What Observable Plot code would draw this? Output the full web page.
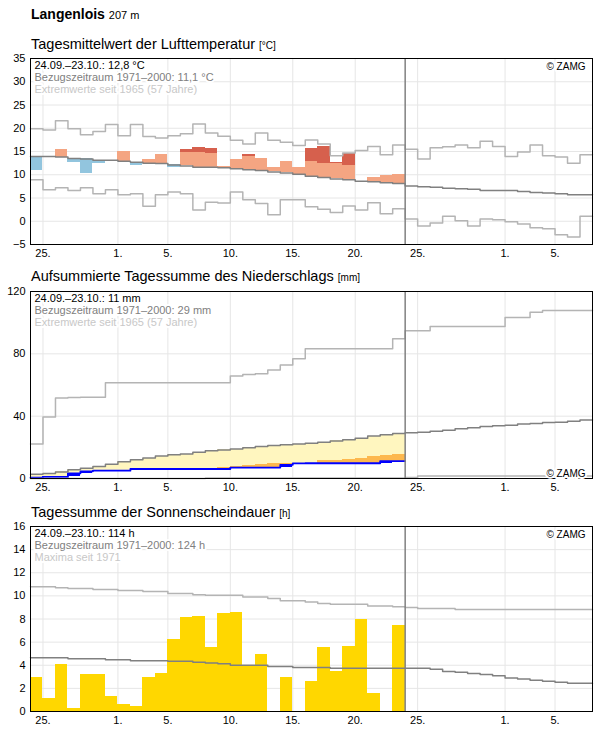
<!DOCTYPE html>
<html>
<head>
<meta charset="utf-8">
<script src="https://cdn.jsdelivr.net/npm/d3@7"></script>
<script src="https://cdn.jsdelivr.net/npm/@observablehq/plot@0.6"></script>
<style>
  body { margin: 0; background: #fff; font-family: "Liberation Sans", Arial, sans-serif; }
  #page { position: relative; width: 596px; height: 729px; overflow: hidden; background: #fff; }
  .h { position: absolute; left: 31px; white-space: nowrap; color: #000; line-height: 17px; }
  .station { font-size: 14px; font-weight: bold; }
  .station span { font-size: 11px; font-weight: normal; }
  .title { font-size: 14.5px; }
  .title span { font-size: 10px; }
  .panel { position: absolute; left: 0; }
</style>
</head>
<body>
<div id="page">
  <div class="h station" style="top:6px">Langenlois <span>207 m</span></div>
  <div class="h title" style="top:36px">Tagesmittelwert der Lufttemperatur <span>[°C]</span></div>
  <div class="panel" id="temp" style="top:50px"></div>
  <div class="h title" style="top:268px">Aufsummierte Tagessumme des Niederschlags <span>[mm]</span></div>
  <div class="panel" id="precip" style="top:283px"></div>
  <div class="h title" style="top:504px">Tagessumme der Sonnenscheindauer <span>[h]</span></div>
  <div class="panel" id="sun" style="top:518px"></div>
</div>
<script>
// Period shown: 24.09.2021 – 07.11.2021, observations up to 23.10.
const startDate = "2021-09-24";
const endDate = "2021-11-08";
const todayDate = "2021-10-24";
const tickDates = ["2021-09-25", "2021-10-01", "2021-10-05", "2021-10-10", "2021-10-15",
                   "2021-10-20", "2021-10-25", "2021-11-01", "2021-11-05"];

// Air temperature, daily mean [°C]
const tempObs = [10.9, 13.9, 15.4, 12.7, 10.2, 12.5, 13.1, 14.9, 11.9, 13.3,
                 14.4, 11.6, 15.4, 15.9, 15.7, 11.7, 13.3, 14.4, 13.6, 11.6,
                 12.9, 11.6, 15.7, 16.1, 12.6, 14.6, 8.6, 9.4, 9.9, 10.1];
const tempWarmLimit = [16.9, 16.9, 16.8, 16.5, 16.4, 16.1, 16.1, 15.9, 15.7, 15.5,
                       15.4, 15.1, 14.7, 14.7, 14.6, 14.5, 14.3, 14.0, 13.9, 13.6,
                       13.4, 13.1, 12.9, 12.5, 12.4, 11.9, 11.6, 11.5, 11.3, 11.1];
const tempMean = [13.9, 13.9, 13.8, 13.5, 13.4, 13.1, 13.1, 12.9, 12.7, 12.5,
                  12.4, 12.1, 11.9, 11.6, 11.6, 11.5, 11.3, 11.1, 10.9, 10.6,
                  10.4, 10.1, 9.7, 9.4, 9.1, 8.9, 8.6, 8.5, 8.3, 8.1,
                  7.6, 7.4, 7.3, 7.1, 7.0, 6.9, 6.6, 6.6, 6.6, 6.4, 6.2, 6.1, 5.9, 5.7, 5.7];
const tempMax = [19.9, 19.6, 21.6, 19.9, 18.6, 19.3, 20.8, 18.4, 20.8, 18.2,
                 17.9, 18.4, 18.8, 20.9, 19.0, 18.3, 17.4, 16.6, 19.0, 17.4,
                 17.0, 16.3, 17.5, 16.6, 14.1, 14.7, 15.2, 16.1, 14.3, 16.4,
                 15.5, 13.4, 15.8, 16.0, 16.4, 15.8, 17.2, 16.1, 13.9, 14.9, 16.4, 14.1, 13.8, 12.5, 14.3];
const tempMin = [8.9, 6.8, 7.2, 6.6, 7.2, 5.9, 6.8, 5.7, 5.9, 3.2,
                 5.7, 6.3, 5.9, 2.4, 4.1, 3.9, 6.3, 4.6, 3.8, 1.4,
                 4.6, 4.6, 3.1, 2.6, 1.9, 3.3, 2.4, 4.0, 1.6, 2.7,
                 0.5, -1.0, -0.4, 1.1, 0.1, -1.0, 0.5, 0.3, -0.1, -0.6, -1.4, -1.6, -2.9, -3.4, 1.1];

// Precipitation: daily sums [mm], climatological cumulative curves
const precipDaily = [0.6, 0.4, 0, 2.3, 1.3, 0.4, 0, 0, 1.1, 0,
                     0, 0, 0, 0, 0, 0, 0.9, 0, 0, 0,
                     1.8, 0.9, 0.1, 0, 0, 0, 0, 0, 1.4, 0];
const precipDryLimit = [0.3, 0.5, 0.7, 1.0, 1.3, 1.6, 2.0, 2.5, 3.0, 3.5,
                        4.0, 4.6, 5.2, 5.7, 6.0, 7.3, 7.7, 8.3, 9.2, 9.4,
                        9.6, 9.6, 9.7, 11.6, 11.6, 12.2, 12.6, 14.3, 14.8, 15.4];
const precipMean = [2.7, 3.2, 4.2, 5.6, 6.6, 7.7, 9.2, 10.8, 12.1, 13.1,
                    14.4, 15.2, 15.7, 16.9, 17.8, 18.3, 18.9, 19.7, 20.5, 21.2,
                    21.7, 22.1, 22.6, 23.3, 24.1, 24.8, 25.8, 27.2, 28.1, 28.8,
                    29.3, 29.7, 30.4, 31.0, 31.9, 32.5, 33.4, 33.8, 34.2, 34.9, 35.3, 35.9, 36.1, 36.8, 37.6];
const precipMax = [22.2, 39.4, 51.6, 52.0, 52.2, 52.2, 61.4, 61.4, 61.4, 61.4,
                   61.4, 61.4, 61.4, 61.4, 61.4, 61.4, 65.7, 66.7, 67.2, 69.7,
                   72.9, 76.8, 83.2, 83.2, 83.2, 83.2, 83.2, 83.2, 83.2, 89.6,
                   94.8, 94.8, 97.5, 97.5, 97.5, 97.5, 97.5, 97.5, 103.3, 103.3, 106.7, 107.8, 107.8, 107.8, 107.8];
const precipMin = [0, 0, 0, 0, 0, 0, 0, 0, 0, 0,
                   0, 0, 0, 0, 0.4, 0.4, 0.4, 0.4, 0.4, 0.4,
                   0.4, 0.4, 0.4, 0.4, 0.4, 0.4, 0.4, 0.4, 0.4, 0.4,
                   0.6, 1.6, 1.6, 1.6, 1.6, 1.6, 1.6, 1.6, 1.6, 1.6, 1.6, 1.6, 1.6, 1.6, 1.6];

// Sunshine duration, daily sums [h]
const sunObs = [2.9, 1.1, 4.1, 0.3, 3.2, 3.2, 1.3, 0.6, 0.4, 2.9,
                3.3, 6.2, 8.1, 8.2, 5.5, 8.5, 8.6, 4.0, 4.9, 0,
                2.9, 0, 2.6, 5.5, 3.5, 5.6, 8.0, 1.6, 0, 7.4];
const sunMean = [4.65, 4.65, 4.65, 4.57, 4.57, 4.57, 4.48, 4.48, 4.39, 4.39,
                 4.39, 4.34, 4.34, 4.25, 4.19, 4.13, 3.99, 3.99, 3.99, 3.9,
                 3.9, 3.8, 3.8, 3.8, 3.75, 3.75, 3.74, 3.74, 3.74, 3.74,
                 3.74, 3.74, 3.65, 3.45, 3.39, 3.28, 3.19, 3.1, 2.9, 2.82, 2.7, 2.61, 2.53, 2.44, 2.44];
const sunMax = [10.8, 10.78, 10.7, 10.64, 10.64, 10.55, 10.55, 10.46, 10.46, 10.38,
                10.38, 10.2, 10.2, 10.09, 10.05, 10.05, 10.05, 9.91, 9.91, 9.77,
                9.57, 9.57, 9.48, 9.34, 9.28, 9.28, 9.28, 9.13, 9.13, 9.05,
                9.0, 8.91, 8.91, 8.91, 8.82, 8.82, 8.82, 8.82, 8.82, 8.82, 8.82, 8.82, 8.82, 8.82, 8.82];

const FONT = "'Liberation Sans', Arial, sans-serif";
const parse = d3.utcParse("%Y-%m-%d");
const start = parse(startDate);
const day = (i) => d3.utcDay.offset(start, i);

// turn daily values into a stepped path covering each whole day
const steps = (values) => values.flatMap((v, i) => [{x: day(i), y: v}, {x: day(i + 1), y: v}]);

const stepLine = (values, stroke, strokeWidth = 1.5) =>
  Plot.line(steps(values), {x: "x", y: "y", stroke, strokeWidth});

// day-wide blocks that butt against each other without seams
const dayRect = (data, options) => Plot.rect(data, {x1: "x1", x2: "x2", shapeRendering: "crispEdges", ...options});

function panel({yDomain, yTicks, marginTop, height, layers, notes, copyAnchor}) {
  const noteMarks = notes.map(([text, fill], k) =>
    Plot.text([text], {frameAnchor: "top-left", textAnchor: "start", lineAnchor: "top",
      dx: 4, dy: 3 + 12 * k, fill, fontSize: 11, stroke: "white", strokeWidth: 4, paintOrder: "stroke"}));
  const copy = copyAnchor === "top"
    ? Plot.text(["© ZAMG"], {frameAnchor: "top-right", textAnchor: "end", lineAnchor: "top",
        dx: -7, dy: 4, fontSize: 10, fill: "#000", stroke: "white", strokeWidth: 4, paintOrder: "stroke"})
    : Plot.text(["© ZAMG"], {frameAnchor: "bottom-right", textAnchor: "end", lineAnchor: "bottom",
        dx: -7, dy: -2, fontSize: 10, fill: "#000", stroke: "white", strokeWidth: 4, paintOrder: "stroke"});
  return Plot.plot({
    width: 596, height, marginLeft: 30, marginRight: 4, marginTop, marginBottom: 18,
    style: {fontFamily: FONT, fontSize: "11px", color: "#000", background: "transparent", overflow: "visible"},
    x: {type: "utc", domain: [start, parse(endDate)]},
    y: {domain: yDomain},
    marks: [
      Plot.gridY(yTicks, {stroke: "#e6e6e6", strokeOpacity: 1}),
      Plot.gridX(tickDates.map(parse), {stroke: "#e6e6e6", strokeOpacity: 1}),
      ...layers,
      Plot.ruleX([parse(todayDate)], {stroke: "#808080", strokeWidth: 1.5}),
      Plot.frame({stroke: "#000"}),
      ...noteMarks,
      copy,
      Plot.axisY(yTicks, {tickSize: 0, tickPadding: 5, fontSize: 11, label: null}),
      Plot.axisX(tickDates.map(parse), {tickSize: 0, tickPadding: 5, fontSize: 11, label: null,
        tickFormat: (d) => `${d.getUTCDate()}.`})
    ]
  });
}

// --- temperature ---
const tempRows = tempObs.map((t, i) => ({x1: day(i), x2: day(i + 1), t, mean: tempMean[i], limit: tempWarmLimit[i]}));
document.getElementById("temp").append(panel({
  yDomain: [-5, 35], yTicks: d3.range(-5, 36, 5), marginTop: 8, height: 212, copyAnchor: "top",
  layers: [
    dayRect(tempRows.filter((d) => d.t < d.mean), {y1: "t", y2: "mean", fill: "#92c5de"}),
    dayRect(tempRows.filter((d) => d.t > d.mean), {y1: "mean", y2: (d) => Math.min(d.t, d.limit), fill: "#f4a582"}),
    dayRect(tempRows.filter((d) => d.t > d.limit), {y1: "limit", y2: "t", fill: "#d6604d"}),
    stepLine(tempMax, "#b4b4b4"),
    stepLine(tempMin, "#b4b4b4"),
    stepLine(tempMean, "#808080")
  ],
  notes: [["24.09.–23.10.: 12,8 °C", "#000"],
          ["Bezugszeitraum 1971–2000: 11,1 °C", "#808080"],
          ["Extremwerte seit 1965 (57 Jahre)", "#c8c8c8"]]
}));

// --- precipitation ---
const precipCum = Array.from(d3.cumsum(precipDaily));
const precipRows = precipCum.map((c, i) => ({
  x1: day(i), x2: day(i + 1), cum: c, prev: i ? precipCum[i - 1] : 0,
  mean: precipMean[i], limit: precipDryLimit[i]
}));
document.getElementById("precip").append(panel({
  yDomain: [0, 120], yTicks: [0, 40, 80, 120], marginTop: 8, height: 213, copyAnchor: "bottom",
  layers: [
    dayRect(precipRows.filter((d) => d.mean > Math.max(d.cum, d.limit)),
      {y1: (d) => Math.max(d.cum, d.limit), y2: "mean", fill: "#fff6bf"}),
    dayRect(precipRows.filter((d) => d.limit > d.cum), {y1: "cum", y2: "limit", fill: "#fdb84e"}),
    dayRect(precipRows.filter((d) => d.cum > d.prev), {y1: "prev", y2: "cum", fill: "#0000ff"}),
    stepLine(precipCum, "#0000ff", 1.8),
    stepLine(precipMax, "#b4b4b4"),
    stepLine(precipMin, "#b4b4b4"),
    stepLine(precipMean, "#808080")
  ],
  notes: [["24.09.–23.10.: 11 mm", "#000"],
          ["Bezugszeitraum 1971–2000: 29 mm", "#808080"],
          ["Extremwerte seit 1965 (57 Jahre)", "#c8c8c8"]]
}));

// --- sunshine ---
const sunRows = sunObs.map((h, i) => ({x1: day(i), x2: day(i + 1), h})).filter((d) => d.h > 0);
document.getElementById("sun").append(panel({
  yDomain: [0, 16], yTicks: d3.range(0, 17, 2), marginTop: 8, height: 211, copyAnchor: "top",
  layers: [
    dayRect(sunRows, {y1: 0, y2: "h", fill: "#ffd700"}),
    stepLine(sunMax, "#b4b4b4"),
    stepLine(sunMean, "#808080")
  ],
  notes: [["24.09.–23.10.: 114 h", "#000"],
          ["Bezugszeitraum 1971–2000: 124 h", "#808080"],
          ["Maxima seit 1971", "#c8c8c8"]]
}));
</script>
</body>
</html>
